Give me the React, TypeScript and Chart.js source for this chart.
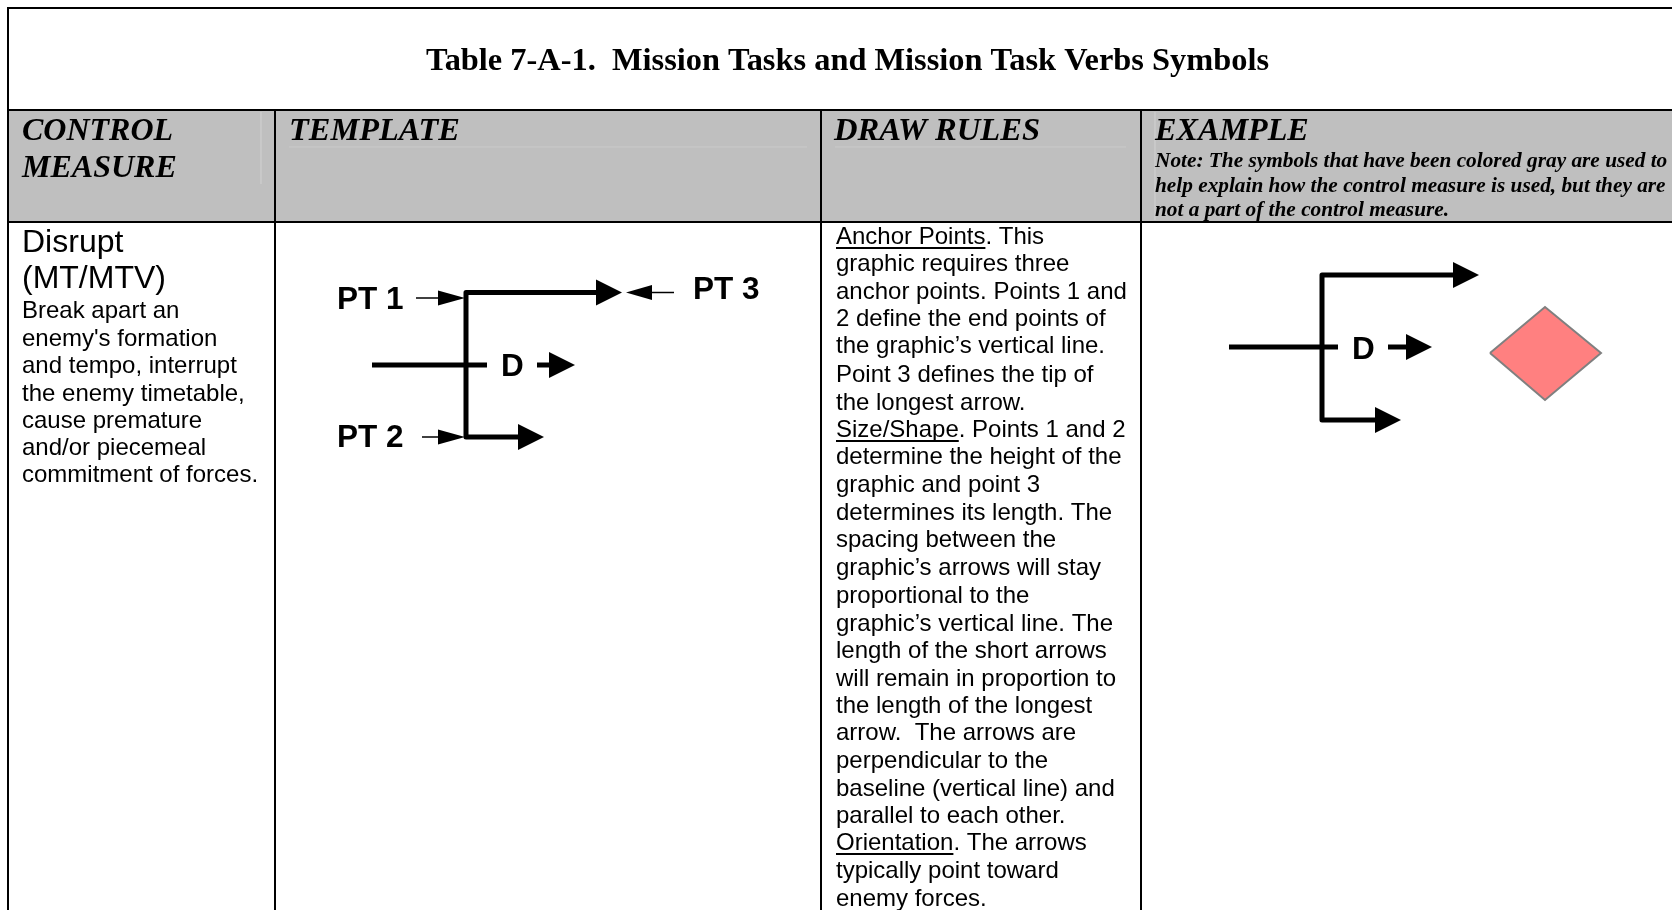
import React, { useEffect, useRef } from "react";
import { Chart, registerables } from "chart.js";

Chart.register(...registerables);

type P = [number, number];
const W = 1672;
const H = 910;

// ---- Table structure
const headerBand: P[] = [[8, 110], [1672, 110], [1672, 222], [8, 222], [8, 110]];
const tableRules: P[][] = [
  [[7, 8], [1672, 8]],
  [[8, 8], [8, 910]],
  [[8, 110], [1672, 110]],
  [[8, 222], [1672, 222]],
  [[275, 110], [275, 910]],
  [[821, 110], [821, 910]],
  [[1141, 110], [1141, 910]],
];
const faintRules: P[][] = [
  [[261, 112], [261, 184]],
  [[289, 147], [807, 147]],
  [[835, 147], [1126, 147]],
  [[1155, 112], [1155, 220]],
];

// ---- Template graphic
const templateBrackets: P[][] = [
  [[598, 292.5], [466, 292.5], [466, 437], [520, 437]],
  [[372, 365], [487, 365]],
  [[537, 365], [551, 365]],
];
const templateHeads: P[][] = [
  [[596, 279.5], [622, 292.5], [596, 305.5], [596, 279.5]],
  [[518, 424], [544, 437], [518, 450], [518, 424]],
  [[549, 352], [575, 365], [549, 378], [549, 352]],
];
const leaderLines: P[][] = [
  [[416, 298], [440, 298]],
  [[422, 437], [440, 437]],
  [[650, 292.5], [674, 292.5]],
];
const leaderHeads: P[][] = [
  [[438, 290.5], [465, 298], [438, 305.5], [438, 290.5]],
  [[438, 429.5], [465, 437], [438, 444.5], [438, 429.5]],
  [[652, 285], [626, 292.5], [652, 300], [652, 285]],
];

// ---- Example graphic
const exampleBrackets: P[][] = [
  [[1455, 275], [1322, 275], [1322, 420], [1377, 420]],
  [[1229, 347], [1338, 347]],
  [[1388, 347], [1408, 347]],
];
const exampleHeads: P[][] = [
  [[1453, 262], [1479, 275], [1453, 288], [1453, 262]],
  [[1375, 407], [1401, 420], [1375, 433], [1375, 407]],
  [[1406, 334], [1432, 347], [1406, 360], [1406, 334]],
];
const enemyDiamond: P[] = [[1490, 353], [1545, 307], [1601, 353], [1545, 400], [1490, 353]];

// ---- Text
const titleText = "Table 7-A-1.  Mission Tasks and Mission Task Verbs Symbols";
const headerLabels: [string, number, number, number][] = [
  ["CONTROL", 22, 140, 32],
  ["MEASURE", 22, 177, 32],
  ["TEMPLATE", 289, 140, 32.4],
  ["DRAW RULES", 834, 140, 32.6],
  ["EXAMPLE", 1155, 140, 32.2],
];
const noteLines = [
  "Note: The symbols that have been colored gray are used to",
  "help explain how the control measure is used, but they are",
  "not a part of the control measure.",
];
const noteBaselines = [167, 192, 216];
const measureHead = ["Disrupt", "(MT/MTV)"];
const measureHeadBaselines = [252, 288];
const measureBody = [
  "Break apart an",
  "enemy's formation",
  "and tempo, interrupt",
  "the enemy timetable,",
  "cause premature",
  "and/or piecemeal",
  "commitment of forces.",
];
const measureBodyBaselines = [318, 346, 373, 401, 428, 455, 482];
const ruleLines: [string, string][] = [
  ["Anchor Points", ". This"],
  ["", "graphic requires three"],
  ["", "anchor points. Points 1 and"],
  ["", "2 define the end points of"],
  ["", "the graphic\u2019s vertical line."],
  ["", "Point 3 defines the tip of"],
  ["", "the longest arrow."],
  ["Size/Shape", ". Points 1 and 2"],
  ["", "determine the height of the"],
  ["", "graphic and point 3"],
  ["", "determines its length. The"],
  ["", "spacing between the"],
  ["", "graphic\u2019s arrows will stay"],
  ["", "proportional to the"],
  ["", "graphic\u2019s vertical line. The"],
  ["", "length of the short arrows"],
  ["", "will remain in proportion to"],
  ["", "the length of the longest"],
  ["", "arrow.  The arrows are"],
  ["", "perpendicular to the"],
  ["", "baseline (vertical line) and"],
  ["", "parallel to each other."],
  ["Orientation", ". The arrows"],
  ["", "typically point toward"],
  ["", "enemy forces."],
];
const ruleBaselines = [
  244, 271, 299, 326, 353, 382, 410, 437, 464, 492, 520, 547, 575, 603, 631, 658, 686, 713, 740, 768, 796, 823, 850, 878, 906,
];
const graphicLabels: [string, number, number][] = [
  ["PT 1", 337, 309],
  ["PT 2", 337, 447],
  ["PT 3", 693, 299],
  ["D", 501, 376],
  ["D", 1352, 359],
];

const SERIF = '"Liberation Serif"';
const SANS = '"Liberation Sans"';

const toXY = (pts: P[]) => pts.map(([x, y]) => ({ x, y }));

const stroke = (pts: P[], width: number, color: string, order = 1) => ({
  data: toXY(pts),
  showLine: true,
  borderColor: color,
  borderWidth: width,
  pointRadius: 0,
  fill: false,
  borderCapStyle: "butt",
  borderJoinStyle: "round",
  order,
});

const shape = (pts: P[], fillColor: string, edge: string, width: number, order = 0) => ({
  data: toXY(pts),
  showLine: true,
  borderColor: edge,
  borderWidth: width,
  backgroundColor: fillColor,
  pointRadius: 0,
  fill: "shape",
  borderJoinStyle: "miter",
  order,
});

const textPlugin = {
  id: "tableText",
  afterDatasetsDraw(chart: any) {
    const { ctx, scales } = chart;
    const px = (v: number) => scales.x.getPixelForValue(v);
    const py = (v: number) => scales.y.getPixelForValue(v);
    ctx.save();
    ctx.fillStyle = "#000";
    ctx.textBaseline = "alphabetic";
    ctx.textAlign = "left";
    const put = (s: string, x: number, y: number, font: string) => {
      ctx.font = font;
      ctx.fillText(s, px(x), py(y));
    };

    put(titleText, 426, 70, `bold 32.4px ${SERIF}`);
    headerLabels.forEach(([s, x, y, size]) => put(s, x, y, `italic bold ${size}px ${SERIF}`));
    noteLines.forEach((s, i) => put(s, 1155, noteBaselines[i], `italic bold 21.3px ${SERIF}`));
    measureHead.forEach((s, i) => put(s, 22, measureHeadBaselines[i], `32px ${SANS}`));
    measureBody.forEach((s, i) => put(s, 22, measureBodyBaselines[i], `24px ${SANS}`));

    ruleLines.forEach(([under, rest], i) => {
      const y = ruleBaselines[i];
      ctx.font = `24px ${SANS}`;
      const w = under ? ctx.measureText(under).width : 0;
      if (under) {
        ctx.fillText(under, px(836), py(y));
        ctx.fillRect(px(836), py(y + 3), w, 2);
      }
      ctx.fillText(rest, px(836) + w, py(y));
    });

    graphicLabels.forEach(([s, x, y]) => put(s, x, y, `bold 31.5px ${SANS}`));
    ctx.restore();
  },
};

export default function App() {
  const ref = useRef<HTMLCanvasElement | null>(null);
  useEffect(() => {
    if (!ref.current) return;
    const datasets: any[] = [
      shape(headerBand, "#BFBFBF", "#BFBFBF", 0, 5),
      ...faintRules.map((p) => stroke(p, 1, "#CACACA", 4)),
      ...tableRules.map((p) => stroke(p, 2, "#000000", 3)),
      ...templateBrackets.map((p) => stroke(p, 5, "#000000", 2)),
      ...exampleBrackets.map((p) => stroke(p, 5, "#000000", 2)),
      ...leaderLines.map((p) => stroke(p, 1.5, "#000000", 2)),
      ...templateHeads.map((p) => shape(p, "#000000", "#000000", 0, 1)),
      ...exampleHeads.map((p) => shape(p, "#000000", "#000000", 0, 1)),
      ...leaderHeads.map((p) => shape(p, "#000000", "#000000", 0, 1)),
      shape(enemyDiamond, "#FF8080", "#808080", 2, 1),
    ];
    const chart = new Chart(ref.current, {
      type: "scatter",
      data: { datasets },
      plugins: [textPlugin],
      options: {
        animation: false,
        responsive: false,
        events: [],
        layout: { padding: 0 },
        plugins: { legend: { display: false }, tooltip: { enabled: false }, title: { display: false } },
        scales: {
          x: { type: "linear", min: 0, max: W, display: false },
          y: { type: "linear", min: 0, max: H, reverse: true, display: false },
        },
      },
    } as any);
    return () => chart.destroy();
  }, []);
  return (
    <div style={{ position: "fixed", left: 0, top: 0, width: W, height: H, background: "#fff" }}>
      <canvas ref={ref} width={W} height={H} style={{ display: "block", width: W, height: H }} />
    </div>
  );
}
